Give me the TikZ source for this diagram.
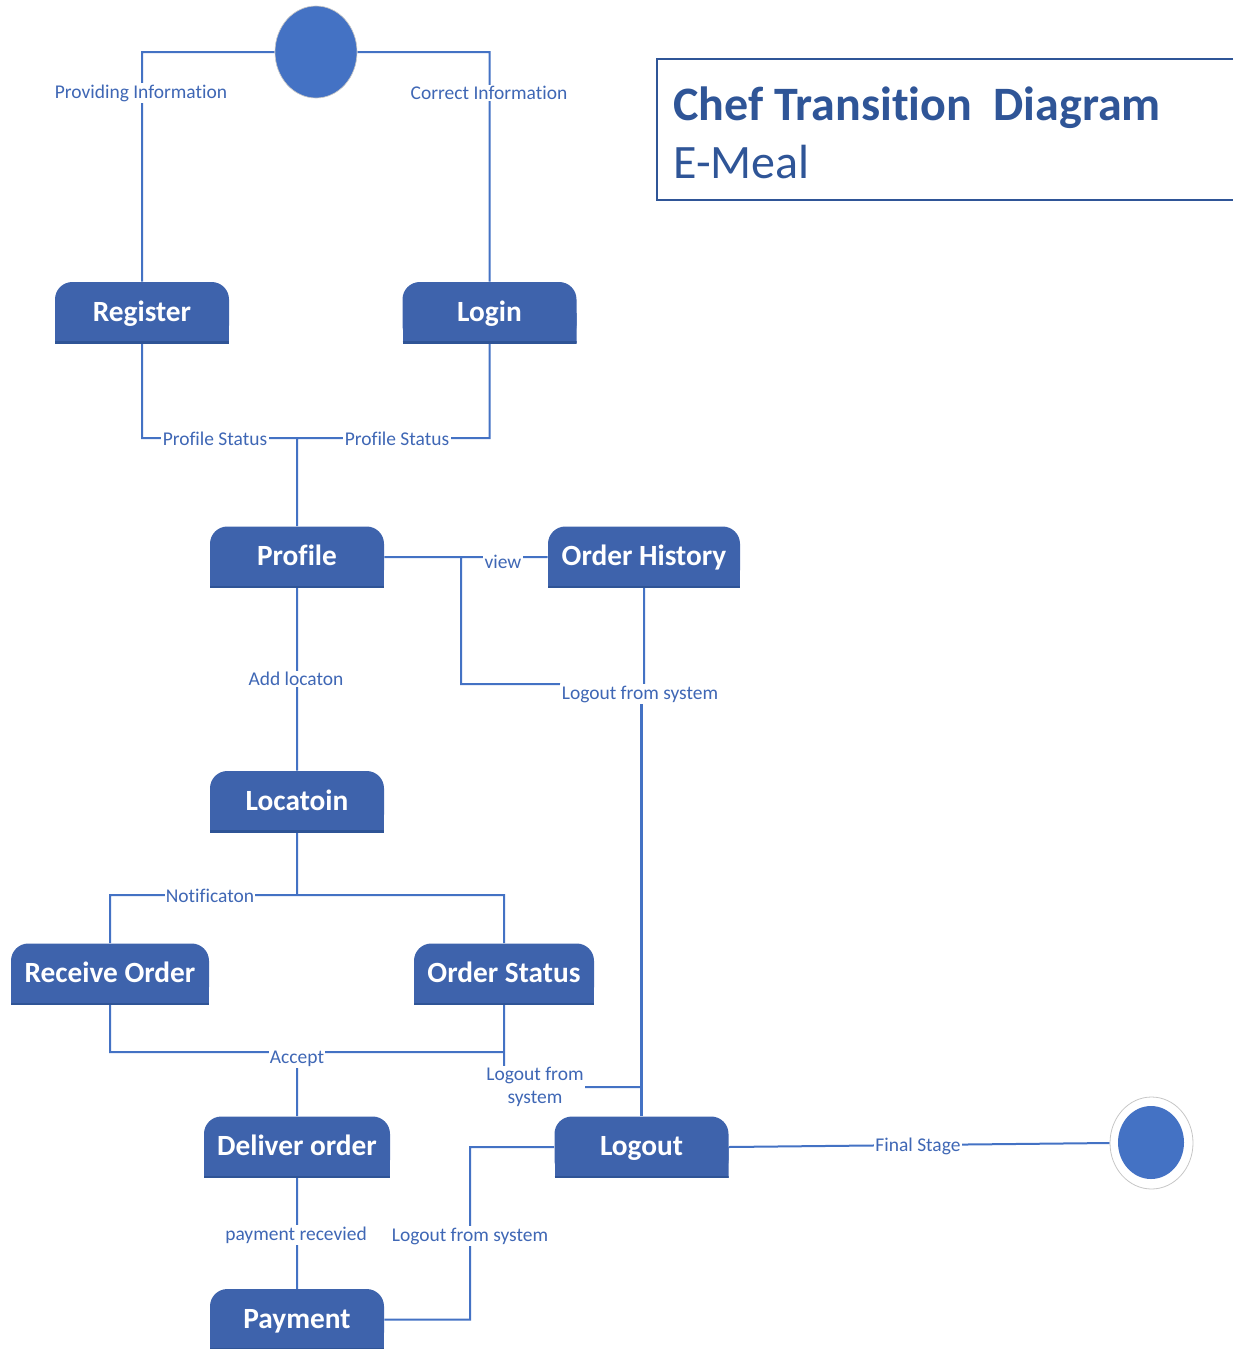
\documentclass[tikz,border=0pt]{standalone}
\usepackage{fontspec}
\setmainfont{Carlito}[Ligatures={NoCommon}, RawFeature={-liga;-clig;-calt;-dlig}]
\usetikzlibrary{shapes.geometric}
\pgfdeclarelayer{background}
\pgfsetlayers{background,main}
\definecolor{lineblue}{HTML}{4472C4}
\definecolor{nodeblue}{HTML}{3E63AC}
\definecolor{nodeedge}{HTML}{2F5496}
\definecolor{titleblue}{HTML}{2F5597}
\definecolor{lbltext}{HTML}{3F67B5}

\begin{document}
\begin{tikzpicture}[x=0.75pt,y=-0.75pt,
  wire/.style={draw=lineblue, line width=1.5pt},
  heavywire/.style={draw=lineblue, line width=2.2pt},
  lbl/.style={fill=white, text=lbltext, inner sep=1pt, align=center,
    font=\fontsize{14.6pt}{17pt}\selectfont},
  state/.style={minimum width=130.5pt, minimum height=45.75pt, inner sep=0pt,
    text=white, font=\fontsize{22pt}{24pt}\selectfont\bfseries,
    text height=16pt, text depth=3pt,
    path picture={
      \fill[nodeblue, rounded corners=13pt]
        (path picture bounding box.south west) rectangle (path picture bounding box.north east);
      \fill[nodeblue]
        (path picture bounding box.south west) rectangle (path picture bounding box.east);
      \draw[nodeedge, line width=3pt]
        (path picture bounding box.south west) -- (path picture bounding box.south east);
    }},
  pseudo/.style={ellipse, fill=lineblue, draw=gray!45, line width=0.5pt, inner sep=0pt,
    minimum width=61.5pt, minimum height=69pt}
]
\useasboundingbox (0,0) rectangle (1233,1349);

% title box, open to the right
\draw[titleblue, line width=1.2pt] (1233,59) -- (657,59) -- (657,200) -- (1233,200);
\node[anchor=base west, inner sep=0pt, text=titleblue,
  font=\fontsize{36pt}{40pt}\selectfont\bfseries] (title) at (673,120)
  {Chef Transit\kern0pt ion\ \ Diagram};
\node[anchor=base west, inner sep=0pt, text=titleblue,
  font=\fontsize{36pt}{40pt}\selectfont] (subtitle) at (673,178) {E-Meal};

% initial and final pseudo-states
\node[pseudo] (start) at (316,52) {};
\node[ellipse, draw=gray!45, line width=0.6pt, inner sep=0pt,
  minimum width=62.25pt, minimum height=69pt] (endc) at (1151.5,1143) {};
\node[ellipse, fill=lineblue, inner sep=0pt,
  minimum width=49.5pt, minimum height=54.75pt] (endcore) at (1151,1142.5) {};

% states
\node[state] (reg) at (142,312.5) {Register};
\node[state] (login) at (489.5,312.5) {Login};
\node[state] (prof) at (297,557) {Profile};
\node[state, minimum width=144pt] (hist) at (644,557) {Order History};
\node[state] (loc) at (297,801.5) {Locatoin};
\node[state, minimum width=148.5pt] (recv) at (110,974) {Receive Order};
\node[state, minimum width=135pt] (stat) at (504,974) {Order Status};
\node[state, minimum width=139.5pt] (deliv) at (297,1147) {Deliver order};
\node[state] (logout) at (641.5,1147) {Logout};
\node[state] (pay) at (297,1319.5) {Payment};

% junction points
\coordinate (jp) at (297,438);
\coordinate (vj) at (461,557);
\coordinate (jn) at (297,895);
\coordinate (ja) at (297,1052);

% transition labels (white boxes break the lines behind them)
\node[lbl] (l1) at (141,93) {Providing Information};
\node[lbl] (l2) at (489,93) {Correct Information};
\node[lbl] (l3) at (215,439) {Profile Status};
\node[lbl] (l4) at (397,439) {Profile Status};
\node[lbl] (l5) at (503,562) {view};
\node[lbl] (l6) at (640,694) {Logout from system};
\node[lbl] (l7) at (296,679) {Add locaton};
\node[lbl] (l8) at (210,896) {Notificaton};
\node[lbl] (l9) at (297,1059) {Accept};
\node[lbl] (l10) at (535,1087) {Logout from\\system};
\node[lbl] (l11) at (296,1235) {payment recevied};
\node[lbl] (l12) at (470,1236) {Logout from system};
\node[lbl] (l13) at (918,1146) {Final Stage};

% connectors
\begin{pgfonlayer}{background}
\path[wire]
  (start.west) -| (reg.north)
  (start.east) -| (login.north)
  (reg.south) |- (jp)
  (login.south) |- (jp)
  (jp) -- (prof.north)
  (prof.east) -- (hist.west)
  (vj) |- (l6.north west)
  (hist.south) -- (hist.south |- l6.center)
  (prof.south) -- (loc.north)
  (loc.south) -- (jn)
  (jn) -| (recv.north)
  (jn) -| (stat.north)
  (recv.south) |- (ja)
  (stat.south) |- (ja)
  (ja) -- (deliv.north)
  (stat.south) -- (stat.south |- l10.north)
  (l10.east) -- (l10.east -| logout.north)
  (deliv.south) -- (pay.north)
  (pay.east) -| (l12.center) |- (logout.west)
  (logout.east) -- (endc.west);
\path[heavywire] (logout.north |- l6.center) -- (logout.north);
\end{pgfonlayer}
\end{tikzpicture}
\end{document}
